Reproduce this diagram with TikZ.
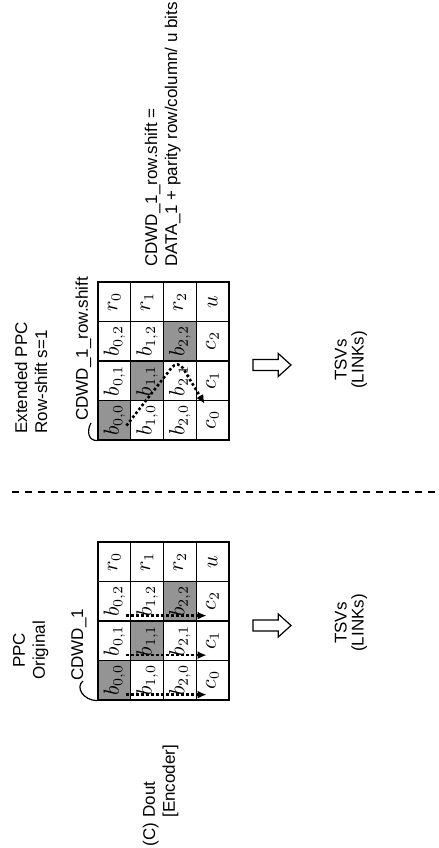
\documentclass[tikz,border=0pt]{standalone}
\usepackage[no-math]{fontspec}
\setmainfont{Liberation Sans}
\usepackage{amsmath}
\usetikzlibrary{arrows.meta, calc}

\tikzset{
  cell/.style={draw, line width=0.65pt, minimum width=19.75pt, minimum height=16.4pt, inner sep=0pt, font=\fontsize{10.5}{11}\selectfont},
  lbl/.style={inner sep=0pt, font=\fontsize{8.5}{10}\selectfont},
  trail/.style={line width=1.3pt, dash pattern=on 1.3pt off 1.2pt, -{Latex[length=4.5pt,width=4pt]}},
  outarrow/.style={line width=0.6pt}
}

\begin{document}
\begin{tikzpicture}[x=0.5pt, y=0.5pt, rotate=90, transform shape]
  \useasboundingbox (0,0) rectangle (848,-439);

  % the two parity product codes
  \foreach \g/\gx in {o/148, e/408} {
    \foreach \i in {0,1,2} {
      \foreach \j in {0,1,2} {
        \ifnum\i=\j \def\cellfill{black!42}\else\def\cellfill{white}\fi
        \node[cell, fill=\cellfill] (\g-\i-\j) at ({\gx+(\j+0.5)*39.5}, {-98-(\i+0.5)*32.75}) {$b_{\i,\j}$};
      }
      \node[cell] (\g-\i-3) at ({\gx+3.5*39.5}, {-98-(\i+0.5)*32.75}) {$r_{\i}$};
    }
    \foreach \lb [count=\j from 0] in {c_0, c_1, c_2, u}
      \node[cell] (\g-3-\j) at ({\gx+(\j+0.5)*39.5}, {-98-3.5*32.75}) {$\lb$};
  }

  \node[lbl] (tag) [anchor=base west] at (1.5,-155) {(C)};
  \node[lbl, align=left, anchor=west] (dout) at (30,-160.7) {Dout\\{[Encoder]}};
  \node[lbl, align=center] (ppcA) at (197.5,-30.8) {PPC\\Original};
  \node[lbl, align=left, anchor=west] (ppcB) at (414,-31) {Extended PPC\\Row-shift s=1};
  \node[lbl, anchor=base west] (cdwdA) at (167,-83) {CDWD\_1};
  \node[lbl, anchor=base west] (cdwdB) at (427,-88) {CDWD\_1\_row.shift};
  \node[lbl, align=left, anchor=west] (rule) at (581,-162.7) {CDWD\_1\_row.shift =\\DATA\_1 + parity row/column/ u bits};

  \draw[line width=0.6pt] (cdwdA.base west) .. controls +(-6,8) and +(0,14) .. (o-0-0.north west);
  \draw[line width=0.6pt] ($(cdwdB.base west)+(-2,-3)$) .. controls +(-7,4) and +(0,10) .. (e-0-0.north west);

  % codeword order
  \foreach \j in {0,1,2}
    \draw[trail] ($(o-0-\j.south west)+(6,5)$) -- ($(o-3-\j.north west)+(6,-11)$);
  \draw[trail, rounded corners=5pt] ($(e-0-0.south west)+(15,5)$) -- ($(e-2-2.west)+(2,2)$) -- ($(e-3-0.north east)+(-4,-9)$);

  % hollow arrows towards the TSVs
  \coordinate (arrA) at (222.5,-253);
  \coordinate (arrB) at (483,-253);
  \foreach \a in {arrA, arrB}
    \draw[outarrow] (\a) ++(-5.5,0) -- ++(11,0) -- ++(0,-25.3) -- ++(6,0) -- ++(-11.5,-12.7) -- ++(-11.5,12.7) -- ++(6,0) -- cycle;
  \node[lbl, align=center] (tsvA) at (225,-351) {TSVs\\[-1.5pt](LINKs)};
  \node[lbl, align=center] (tsvB) at (488,-351) {TSVs\\[-1.5pt](LINKs)};

  \coordinate (cutTop) at (356,-12);
  \coordinate (cutBot) at (356,-439);
  \draw[line width=0.65pt, dash pattern=on 3.5pt off 3pt] (cutTop) -- (cutBot);
\end{tikzpicture}
\end{document}
